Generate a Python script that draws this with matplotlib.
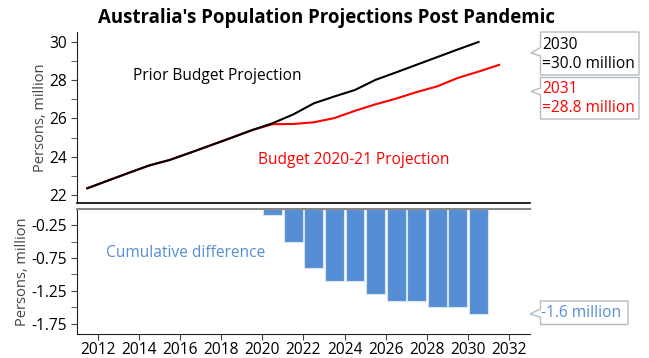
import numpy as np
import matplotlib
matplotlib.use("Agg")
import matplotlib.pyplot as plt
from matplotlib.patches import Polygon

plt.rcParams['font.family'] = ['Open Sans', 'DejaVu Sans']
plt.rcParams['axes.unicode_minus'] = False

# ---- data ----
prior_years = list(range(2011, 2031))
prior_values = [22.35, 22.75, 23.15, 23.54, 23.83, 24.21, 24.60, 24.99, 25.39, 25.75,
                26.21, 26.79, 27.15, 27.49, 28.02, 28.41, 28.81, 29.21, 29.61, 30.0]
budget_years = list(range(2011, 2032))
budget_values = [22.35, 22.75, 23.15, 23.54, 23.83, 24.21, 24.60, 24.99, 25.39, 25.70,
                 25.71, 25.80, 26.02, 26.40, 26.74, 27.04, 27.38, 27.68, 28.12, 28.45, 28.80]
diff_years = list(range(2020, 2031))
diff_values = [-0.09, -0.5, -0.9, -1.1, -1.1, -1.3, -1.4, -1.4, -1.5, -1.5, -1.6]
xticks = list(range(2012, 2034, 2))

blue = '#558ED5'
FS = 11.2

W, H = 649, 358
fig = plt.figure(figsize=(W / 100, H / 100), dpi=100)

def fx(x):
    return x / W

def fy(y):
    return 1 - y / H

ax1 = fig.add_axes([fx(77), fy(203), fx(530) - fx(77), fy(32) - fy(203)])
ax2 = fig.add_axes([fx(77), fy(334), fx(530) - fx(77), fy(209) - fy(334)])

# top panel
ax1.plot(np.array(prior_years) + 0.5, prior_values, color='black', lw=1.5, zorder=3)
ax1.plot(np.array(budget_years) + 0.5, budget_values, color='red', lw=1.5, zorder=2)
ax1.set_xlim(2011, 2033)
ax1.set_ylim(21.58, 30.52)
ax1.set_yticks([22, 24, 26, 28, 30])
ax1.set_yticks([23, 25, 27, 29], minor=True)
ax1.set_xticks([])
for s in ['top', 'right']:
    ax1.spines[s].set_visible(False)
ax1.spines['left'].set_color('#222222')
ax1.spines['bottom'].set_color('black')
ax1.spines['bottom'].set_linewidth(1.2)
ax1.tick_params(axis='y', which='major', labelsize=FS, length=4, color='#444444', pad=3)
ax1.tick_params(axis='y', which='minor', length=4, color='#444444')
ax1.set_ylabel('Persons, million', fontsize=10.5, color='#444444', labelpad=1)
ax1.text(2013.72, 28.22, 'Prior Budget Projection', fontsize=FS, color='black', va='center')
ax1.text(2019.8, 23.85, 'Budget 2020-21 Projection', fontsize=FS, color='red', va='center')

# bottom panel
ax2.bar(np.array(diff_years) + 0.5, diff_values, width=0.92, color=blue,
        edgecolor='#dbe5f1', linewidth=0.8, zorder=2)
ax2.set_xlim(2011, 2033)
ax2.set_ylim(-1.91, 0)
ax2.set_yticks([-0.25, -0.75, -1.25, -1.75])
ax2.set_yticks([-0.5, -1.0, -1.5], minor=True)
ax2.yaxis.set_major_formatter(matplotlib.ticker.FuncFormatter(lambda v, p: f'{v:.2f}'))
ax2.set_xticks(xticks)
ax2.set_xticklabels([str(x) for x in xticks])
ax2.spines['right'].set_visible(False)
ax2.spines['top'].set_color('#888888')
ax2.spines['top'].set_linewidth(1.5)
ax2.spines['left'].set_color('#222222')
ax2.spines['bottom'].set_color('#222222')
ax2.tick_params(axis='y', which='major', labelsize=FS, length=4, color='#444444', pad=3)
ax2.tick_params(axis='x', which='major', labelsize=FS, length=4, color='#444444', pad=1.5)
ax2.tick_params(axis='y', which='minor', length=4, color='#444444')
ax2.set_ylabel('Persons, million', fontsize=10.5, color='#444444', labelpad=1)
ax2.text(2012.4, -0.67, 'Cumulative difference', fontsize=FS, color=blue, va='center')

# title
fig.text(fx(326), fy(18), "Australia's Population Projections Post Pandemic",
         fontsize=13.4, fontweight='bold', ha='center', va='center')

# callouts
def callout(x0, x1, y0, y1, ny0, ny1, tipx, tipy):
    pts = [(x0, y0), (x1, y0), (x1, y1), (x0, y1), (x0, ny1), (tipx, tipy), (x0, ny0)]
    poly = Polygon([(fx(a), fy(b)) for a, b in pts], closed=True, transform=fig.transFigure,
                   facecolor='white', edgecolor='#b4bcc4', lw=1.0)
    fig.add_artist(poly)

callout(540.5, 639, 32, 75, 47.5, 56, 531, 53)
fig.text(fx(542), fy(45), '2030', fontsize=FS, color='black', va='center')
fig.text(fx(542), fy(64), '=30.0 million', fontsize=FS, color='black', va='center')
callout(540.5, 639, 77.5, 119, 88, 95, 531, 91.5)
fig.text(fx(542), fy(89), '2031', fontsize=FS, color='red', va='center')
fig.text(fx(542), fy(108), '=28.8 million', fontsize=FS, color='red', va='center')
callout(540.5, 628, 301, 324.5, 309, 317, 530, 314)
fig.text(fx(541), fy(313), '-1.6 million', fontsize=FS, color=blue, va='center')

fig.savefig('out.png', dpi=100)
